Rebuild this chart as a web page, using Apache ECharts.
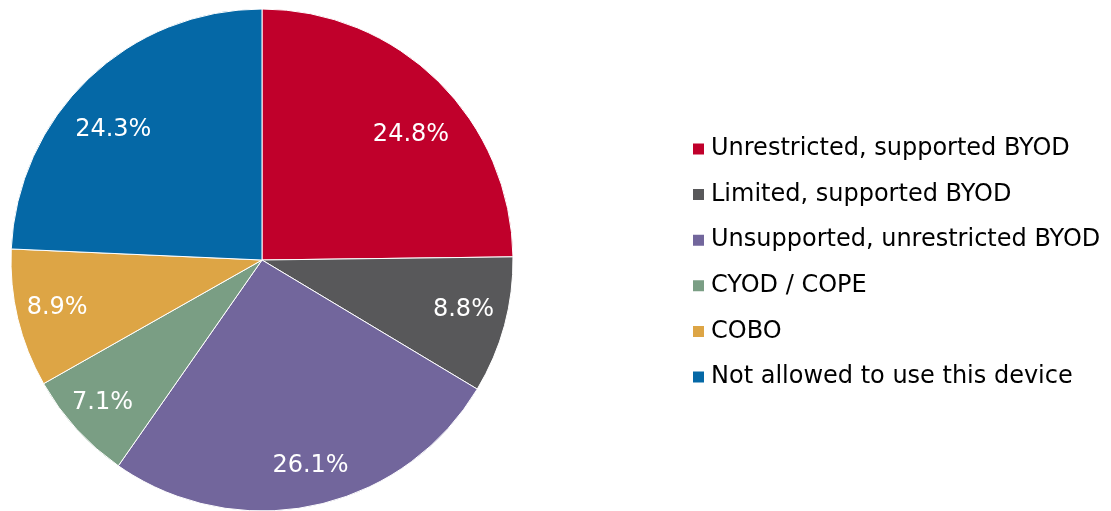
<!DOCTYPE html>
<html>
<head>
<meta charset="utf-8">
<script src="https://cdn.jsdelivr.net/npm/echarts@6/dist/echarts.min.js"></script>
<style>
  html, body { margin: 0; padding: 0; background: #fff; }
  #main { width: 1111px; height: 511px; }
</style>
</head>
<body>
<div id="main"></div>
<script>
const categories = [
  'Unrestricted, supported BYOD',
  'Limited, supported BYOD',
  'Unsupported, unrestricted BYOD',
  'CYOD / COPE',
  'COBO',
  'Not allowed to use this device'
];
const shares = [24.8, 8.8, 26.1, 7.1, 8.9, 24.3];
const colors = ['#C0002B', '#58585A', '#72669C', '#7A9E84', '#DDA545', '#0568A6'];
// small label nudges, the way the original tool placed them
const labelNudge = [[6, 20], [5, -3], [6, 7], [-9, 6], [-7, 0], [-8, 17]];

const pieData = categories.map((name, i) => ({
  name: name,
  value: shares[i],
  itemStyle: { color: colors[i] }
}));

let myChart = echarts.init(document.getElementById('main'));
myChart.setOption({
  animation: false,
  legend: {
    orient: 'vertical',
    left: 686,
    top: 132,
    icon: 'rect',
    itemWidth: 13,
    itemHeight: 13,
    itemGap: 21.6,
    textStyle: {
      fontFamily: 'DejaVu Sans',
      fontSize: 24,
      lineHeight: 24,
      color: '#000',
      padding: [0, 0, 0, 1]
    },
    data: categories
  },
  series: [
    {
      type: 'pie',
      center: [262, 260],
      radius: 251,
      startAngle: 90,
      clockwise: true,
      silent: true,
      itemStyle: { borderColor: '#fff', borderWidth: 1 },
      label: { show: false },
      labelLine: { show: false },
      data: pieData
    },
    {
      // transparent ring, only used to place the labels at about 0.8 radius
      type: 'pie',
      center: [262, 260],
      radius: [150, 251],
      startAngle: 90,
      clockwise: true,
      silent: true,
      legendHoverLink: false,
      itemStyle: { color: 'transparent', borderWidth: 0 },
      label: {
        show: true,
        position: 'inside',
        formatter: (p) => p.value.toFixed(1) + '%',
        color: '#fff',
        fontFamily: 'DejaVu Sans',
        fontSize: 24
      },
      labelLayout: (params) => ({
        dx: labelNudge[params.dataIndex][0],
        dy: labelNudge[params.dataIndex][1]
      }),
      labelLine: { show: false },
      data: categories.map((name, i) => ({ name: name + ' ', value: shares[i] }))
    }
  ]
});
</script>
</body>
</html>
